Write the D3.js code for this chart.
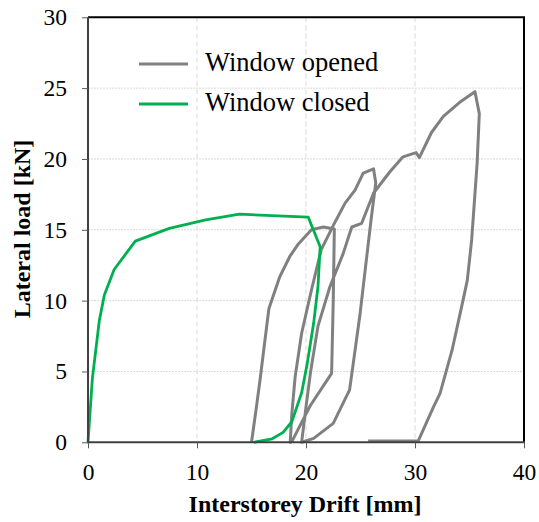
<!DOCTYPE html>
<html><head><meta charset="utf-8">
<script src="https://cdn.jsdelivr.net/npm/d3@7/dist/d3.min.js"></script>
<style>body{margin:0;background:#fff}svg{display:block}</style>
</head><body>
<script>
// ---- data ----
const xTicks = [0, 10, 20, 30, 40];
const yTicks = [0, 5, 10, 15, 20, 25, 30];
const seriesNames = ["Window opened", "Window closed"];
const openedX = [15.0,15.4,15.8,16.2,16.6,17.6,18.5,19.3,20.5,21.6,22.6,22.5,22.35,20.4,18.7,
  18.55,18.7,19.0,19.6,20.5,21.4,22.5,23.6,24.5,25.25,26.2,26.4,26.0,25.1,24.95,24.0,22.5,20.7,19.75,
  19.6,20.0,20.4,21.1,22.2,23.4,24.2,25.1,26.2,27.7,28.9,30.1,30.4,31.5,32.6,34.1,35.5,35.9,35.7,35.2,34.8,34.4,33.4,32.3,31.7,30.3,25.7];
const openedY = [0,2.2,4.5,7.0,9.45,11.7,13.1,14.0,15.0,15.2,15.05,10.0,4.87,2.6,0.05,
  0,2.0,4.6,7.7,10.75,13.6,15.3,16.9,17.8,19.0,19.3,18.3,15.9,10.0,9.0,3.7,1.34,0.28,0.04,
  0,2.5,4.87,8.2,11.0,13.3,15.2,15.45,17.6,19.1,20.15,20.45,20.1,21.85,23.0,24.0,24.75,23.2,19.7,14.3,11.45,10.0,6.5,3.46,2.5,0.1,0.09];
const closedX = [0,0.4,1.04,1.5,2.4,4.34,7.46,10.8,13.9,20.2,21.3,21.1,20.7,20.1,19.6,18.7,17.9,16.9,15.2];
const closedY = [0,4.5,8.6,10.4,12.2,14.2,15.1,15.7,16.1,15.9,13.8,11.0,8.4,5.5,3.5,1.45,0.7,0.25,0];

// ---- layout ----
const W = 539, H = 522;
const L = 88, R = 524, T = 17.3, B = 442.3;
const svg = d3.select("body").append("svg").attr("width", W).attr("height", H);
const x = d3.scaleLinear().domain([0, 40]).range([L, R]);
const y = d3.scaleLinear().domain([0, 30]).range([B, T]);
const font = "Liberation Serif";

// grid
svg.append("g").selectAll("line").data(xTicks.slice(1, -1)).join("line")
  .attr("x1", d => x(d)).attr("x2", d => x(d)).attr("y1", T).attr("y2", B)
  .attr("stroke", "#d9d9d9").attr("stroke-width", 1).attr("stroke-dasharray", "5,3");
svg.append("g").selectAll("line").data(yTicks.slice(1, -1)).join("line")
  .attr("x1", L).attr("x2", R).attr("y1", d => y(d)).attr("y2", d => y(d))
  .attr("stroke", "#d9d9d9").attr("stroke-width", 1).attr("stroke-dasharray", "2,1");

// frame top/right
svg.append("line").attr("x1", L).attr("x2", R + 1).attr("y1", T).attr("y2", T).attr("stroke", "#000").attr("stroke-width", 2);
svg.append("line").attr("x1", R).attr("x2", R).attr("y1", T).attr("y2", B).attr("stroke", "#000").attr("stroke-width", 2);

// series
const line = d3.line().x(d => x(d[0])).y(d => y(d[1]));
const opened = openedX.map((v, i) => [v, openedY[i]]);
const closed = closedX.map((v, i) => [v, closedY[i]]);
svg.append("path").datum(opened).attr("d", line).attr("fill", "none")
  .attr("stroke", "#808080").attr("stroke-width", 3).attr("stroke-linejoin", "round");
svg.append("path").datum(closed).attr("d", line).attr("fill", "none")
  .attr("stroke", "#00b050").attr("stroke-width", 2.8).attr("stroke-linejoin", "round");

// axes
const xa = svg.append("g").attr("transform", `translate(0,${B})`)
  .call(d3.axisBottom(x).tickValues(xTicks).tickSize(6).tickPadding(15));
const ya = svg.append("g").attr("transform", `translate(${L},0)`)
  .call(d3.axisLeft(y).tickValues(yTicks).tickSize(6).tickPadding(15));
[xa, ya].forEach(a => {
  a.select(".domain").attr("stroke", "#404040").attr("stroke-width", 2);
  a.selectAll(".tick line").attr("stroke", "#595959").attr("stroke-width", 1);
  a.selectAll("text").style("font-family", font).style("font-size", "23.5px").attr("fill", "#000");
});
xa.select(".domain").attr("d", `M${L - 1},0H${R + 1}`);
ya.select(".domain").attr("d", `M0,${B}V${T}`);

// titles
svg.append("text").attr("x", 305).attr("y", 512).attr("text-anchor", "middle")
  .style("font-family", font).style("font-weight", "bold").style("font-size", "24px").text("Interstorey Drift [mm]");
svg.append("text").attr("transform", `translate(30,229) rotate(-90)`).attr("text-anchor", "middle")
  .style("font-family", font).style("font-weight", "bold").style("font-size", "24px").text("Lateral load [kN]");

// legend
const colors = ["#808080", "#00b050"];
const ly = [64, 104];
seriesNames.forEach((n, i) => {
  svg.append("line").attr("x1", 139).attr("x2", 188).attr("y1", ly[i]).attr("y2", ly[i])
    .attr("stroke", colors[i]).attr("stroke-width", 3);
  svg.append("text").attr("x", 205).attr("y", ly[i] + 7)
    .style("font-family", font).style("font-size", "26.5px").text(n);
});
</script>
</body></html>
